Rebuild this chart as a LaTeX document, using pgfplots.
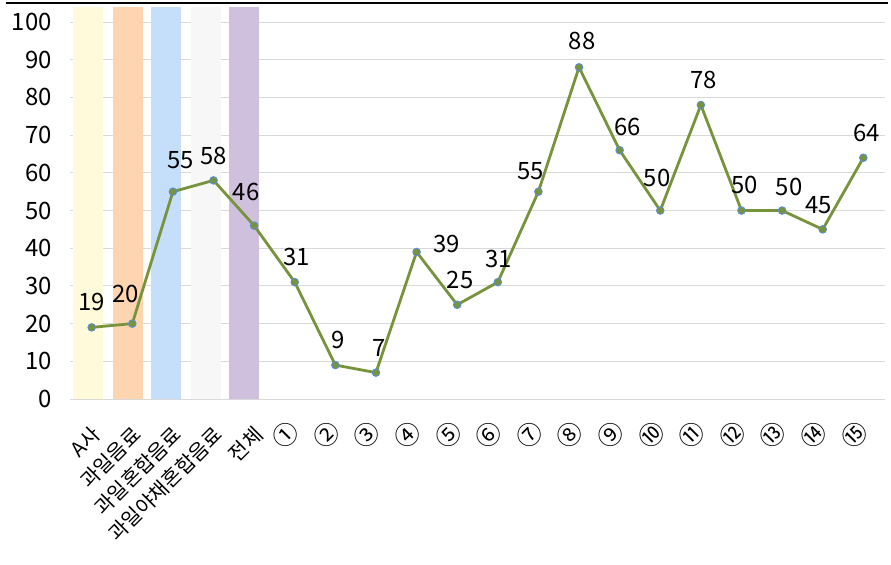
\documentclass[border=0pt]{standalone}
\usepackage{fontspec}
\setmainfont{Noto Sans CJK KR}
\usepackage{pgfplots}
\usepackage{pgfplotstable}
\pgfplotsset{compat=1.18}
\definecolor{linegreen}{HTML}{77933C}
\definecolor{markblue}{HTML}{5B8FD0}
\definecolor{bA}{HTML}{FFFAD9}
\definecolor{bB}{HTML}{FED5B0}
\definecolor{bC}{HTML}{C5DFFB}
\definecolor{bD}{HTML}{F7F7F7}
\definecolor{bE}{HTML}{CFC1DD}
\definecolor{gridgray}{HTML}{D9D9D9}
\newcommand{\cn}[1]{\raisebox{16.5bp}{\fontsize{25}{25}\selectfont #1}\hspace{-12.5bp}}
\pgfplotstableread{
x y dx dy
0 19 0 25
1 20 -7 30
2 55 8 32
3 58 0 24
4 46 -8 34
5 31 2 25
6 9 3 25
7 7 3 25
8 39 30 8
9 25 3 25
10 31 1 23
11 55 -8 21
12 88 3 26
13 66 8 23
14 50 -3 33
15 78 3 25
16 50 3 26
17 50 7 24
18 45 -4 24
19 64 3 25
}\datatable
\begin{document}
\begin{tikzpicture}
\useasboundingbox (-70bp,-166bp) rectangle (821bp,399bp);
\begin{axis}[
  at={(0,0)}, anchor=south west,
  scale only axis, width=815bp, height=392bp,
  xmin=-0.534, xmax=19.534, ymin=0, ymax=104,
  axis line style={draw=none},
  major tick length=0pt,
  ytick={0,10,...,100},
  ymajorgrids, grid style={gridgray, line width=1bp},
  xtick={0,...,19},
  xticklabels={A사,과일음료,과일혼합음료,과일야채혼합음료,전체,\cn{①},\cn{②},\cn{③},\cn{④},\cn{⑤},\cn{⑥},\cn{⑦},\cn{⑧},\cn{⑨},\cn{⑩},\cn{⑪},\cn{⑫},\cn{⑬},\cn{⑭},\cn{⑮}},
  /pgf/number format/assume math mode=true,
  yticklabel style={font=\fontsize{24}{26}\selectfont, anchor=east, inner sep=0pt, xshift=-18bp},
  xticklabel style={font=\fontsize{20.5}{24}\selectfont, xshift=5bp, yshift=-32bp, rotate=45, anchor=east, inner sep=0pt},
  clip=false,
]
\addplot[ybar, bar width=30bp, bar shift=0pt, fill=bA, draw=none] coordinates {(-0.084,104)};
\addplot[ybar, bar width=30bp, bar shift=0pt, fill=bB, draw=none] coordinates {(0.90,104)};
\addplot[ybar, bar width=30bp, bar shift=0pt, fill=bC, draw=none] coordinates {(1.83,104)};
\addplot[ybar, bar width=30bp, bar shift=0pt, fill=bD, draw=none] coordinates {(2.81,104)};
\addplot[ybar, bar width=30bp, bar shift=0pt, fill=bE, draw=none] coordinates {(3.75,104)};
\addplot[linegreen, line width=2.8bp, mark=*, mark size=3.8bp,
  mark options={fill=linegreen, draw=markblue, line width=0.9bp},
  point meta=explicit symbolic,
  nodes near coords,
  visualization depends on={\thisrow{dx} \as \mydx},
  visualization depends on={\thisrow{dy} \as \mydy},
  every node near coord/.append style={anchor=center, text=black, inner sep=0pt,
     font=\fontsize{24}{26}\selectfont, xshift=\mydx*1bp, yshift=\mydy*1bp},
] table[x=x, y=y, meta=y] {\datatable};
\end{axis}
\draw[black, line width=1.5bp] (-64bp,396bp) -- (818bp,396bp);
\end{tikzpicture}
\end{document}
